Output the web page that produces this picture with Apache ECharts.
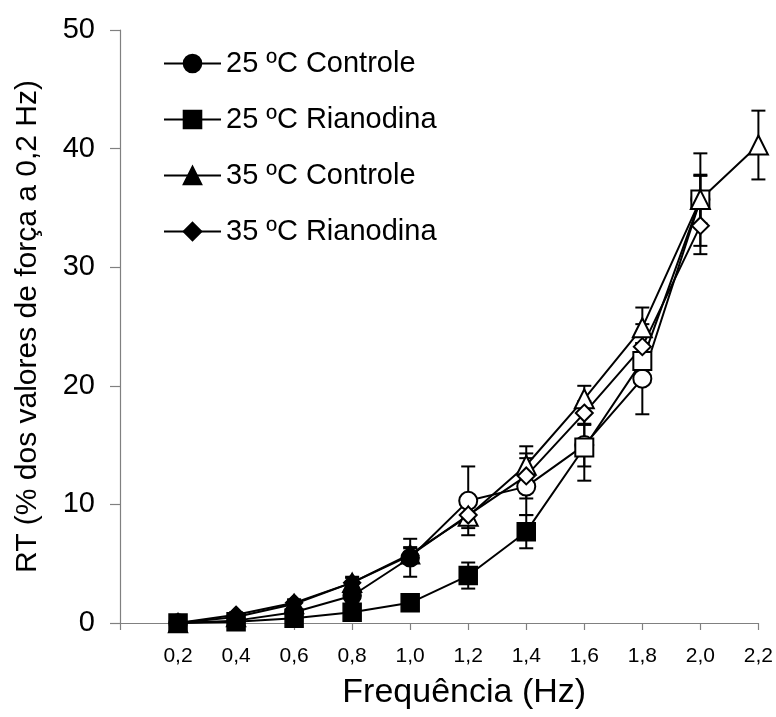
<!DOCTYPE html>
<html><head><meta charset="utf-8">
<script src="https://cdn.jsdelivr.net/npm/echarts@6/dist/echarts.min.js"></script>
<style>html,body{margin:0;padding:0;background:#fff}#c{width:776px;height:717px}</style>
</head><body><div id="c"></div>
<script>
const freq = [0.2,0.4,0.6,0.8,1.0,1.2,1.4,1.6,1.8,2.0,2.2];
const names = ['25 ºC Controle','25 ºC Rianodina','35 ºC Controle','35 ºC Rianodina'];
const c25 = [0, 0.2, 0.9, 2.3, 5.5, 10.3, 11.5, 15.0, 20.6, 35.7];
const c25err = [0, 0.2, 0.3, 0.5, 1.6, 2.9, 2.4, 1.8, 3.0, 2.0];
const r25 = [0, 0.1, 0.4, 0.9, 1.7, 4.0, 7.7, 14.8, 22.1, 35.7];
const r25err = [0, 0.1, 0.2, 0.3, 0.4, 1.1, 1.4, 2.8, 1.5, 2.1];
const c35 = [0, 0.5, 1.6, 3.4, 5.8, 9.0, 13.3, 18.9, 24.9, 35.7, 40.3];
const c35err = [0, 0.2, 0.3, 0.4, 0.6, 1.0, 1.6, 1.1, 1.7, 3.9, 2.9];
const r35 = [0, 0.7, 1.7, 3.4, 5.7, 9.1, 12.4, 17.7, 23.3, 33.5];
const r35err = [0, 0.2, 0.3, 0.5, 0.6, 0.7, 1.9, 1.0, 1.9, 2.4];
// index from which markers are drawn open (white)
const openFrom = [5, 7, 5, 5];
const yTicks = [0,10,20,30,40,50];

const vals = [c25, r25, c35, r35];
const errs = [c25err, r25err, c35err, r35err];
const symbols = ['circle','rect','triangle','diamond'];
const sizes = [18, 18, 19, 17];
const font = 'Liberation Sans, Arial, sans-serif';

const series = [];
vals.forEach((arr, s) => {
  series.push({
    type: 'custom', z: 1, silent: true,
    data: arr.map((v,i)=>[freq[i], v, errs[s][i]]),
    renderItem: function(params, api){
      const x = api.value(0), y = api.value(1), e = api.value(2);
      if (!e) return;
      const pt = api.coord([x, y+e]), pb = api.coord([x, y-e]);
      const w = 7;
      const st = {stroke:'#000', lineWidth:2};
      return {type:'group', children:[
        {type:'line', shape:{x1:pt[0],y1:pt[1],x2:pb[0],y2:pb[1]}, style:st},
        {type:'line', shape:{x1:pt[0]-w,y1:pt[1],x2:pt[0]+w,y2:pt[1]}, style:st},
        {type:'line', shape:{x1:pb[0]-w,y1:pb[1],x2:pb[0]+w,y2:pb[1]}, style:st}
      ]};
    }
  });
});
vals.forEach((arr, s) => {
  series.push({
    name: names[s], type: 'line', z: 3,
    symbol: symbols[s], symbolSize: sizes[s],
    showAllSymbol: true,
    lineStyle: {color:'#000', width:2},
    itemStyle: {color:'#000', borderColor:'#000', borderWidth:1.5},
    data: arr.map((v,i)=> i >= openFrom[s]
      ? {value:[freq[i], v], itemStyle:{color:'#fff', borderColor:'#000', borderWidth:2}}
      : {value:[freq[i], v]})
  });
});

const chart = echarts.init(document.getElementById('c'));
chart.setOption({
  animation: false,
  backgroundColor: '#fff',
  grid: {left:120, right:16, top:30, bottom:94},
  legend: {
    data: names, orient:'vertical', left:158, top:44,
    itemWidth:57, itemHeight:22, itemGap:27,
    textStyle:{fontFamily:font, fontSize:29, lineHeight:29, color:'#000'}
  },
  xAxis: {
    type:'value', min:0, max:2.2, interval:0.2,
    name:'Frequência (Hz)', nameLocation:'middle', nameGap:53,
    nameTextStyle:{fontFamily:font, fontSize:34, color:'#000', padding:[0,0,0,50]},
    axisLine:{lineStyle:{color:'#808080', width:1.2}},
    axisTick:{show:true, length:7, lineStyle:{color:'#808080', width:1.2}},
    splitLine:{show:false},
    axisLabel:{fontFamily:font, fontSize:21, color:'#000', margin:23,
      formatter: v => v < 0.1 ? '' : v.toFixed(1).replace('.', ',')}
  },
  yAxis: {
    type:'value', min:yTicks[0], max:yTicks[yTicks.length-1], interval:10,
    name:'RT (% dos valores de força a 0,2 Hz)', nameLocation:'middle', nameGap:77,
    nameTextStyle:{fontFamily:font, fontSize:30, color:'#000'},
    axisLine:{show:true, lineStyle:{color:'#808080', width:1.2}},
    axisTick:{show:true, length:10, lineStyle:{color:'#808080', width:1.2}},
    splitLine:{show:false},
    axisLabel:{fontFamily:font, fontSize:29, color:'#000', margin:25}
  },
  series: series
});
</script></body></html>
